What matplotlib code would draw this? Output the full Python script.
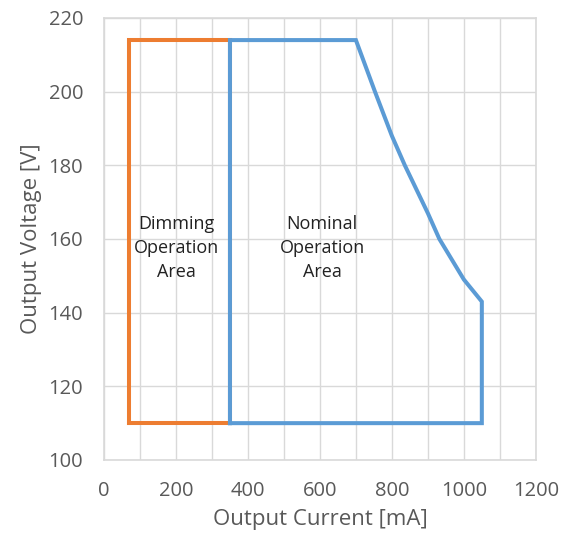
import matplotlib
matplotlib.use("Agg")
import matplotlib.pyplot as plt

plt.rcParams['font.family'] = ['Open Sans', 'DejaVu Sans']

# Dimming operation area (closed rectangle)
dim_current = [70, 70, 350, 350, 70]
dim_voltage = [110, 214, 214, 110, 110]

# Nominal operation area (closed polygon, curved derating edge)
nom_current = [350, 350, 700, 753, 800, 836, 900, 932, 1000, 1050, 1050, 350]
nom_voltage = [110, 214, 214, 200, 188, 180, 167, 160, 149, 143, 110, 110]

grey = '#595959'
grid_col = '#D9D9D9'

fig = plt.figure(figsize=(5.7, 5.45), dpi=100)
ax = fig.add_axes([0.1825, 0.156, 0.7575, 0.811])

ax.plot(dim_current, dim_voltage, color='#ED7D31', lw=2.9, solid_joinstyle='miter', zorder=3)
ax.plot(nom_current, nom_voltage, color='#5B9BD5', lw=2.9, solid_joinstyle='miter', zorder=4)

ax.set_xlim(0, 1200)
ax.set_ylim(100, 220)
ax.set_xticks(range(0, 1201, 200))
ax.set_xticks(range(0, 1201, 100), minor=True)
ax.set_yticks(range(100, 221, 20))
ax.grid(True, which='both', color=grid_col, lw=1, zorder=0)
ax.set_axisbelow(True)
ax.tick_params(which='both', length=0, labelsize=14.5, colors=grey)
ax.tick_params(axis='x', pad=15)
ax.tick_params(axis='y', pad=15)
for s in ax.spines.values():
    s.set_color(grid_col)
    s.set_linewidth(1.2)

ax.set_xlabel('Output Current [mA]', fontsize=16, color=grey, labelpad=6)
ax.set_ylabel('Output Voltage [V]', fontsize=16, color=grey, labelpad=5)

ax.text(202, 157.5, 'Dimming\nOperation\nArea', ha='center', va='center',
        fontsize=13, linespacing=1.45, color='#222222')
ax.text(606, 157.5, 'Nominal\nOperation\nArea', ha='center', va='center',
        fontsize=13, linespacing=1.45, color='#222222')

fig.savefig('out.png', dpi=100)
